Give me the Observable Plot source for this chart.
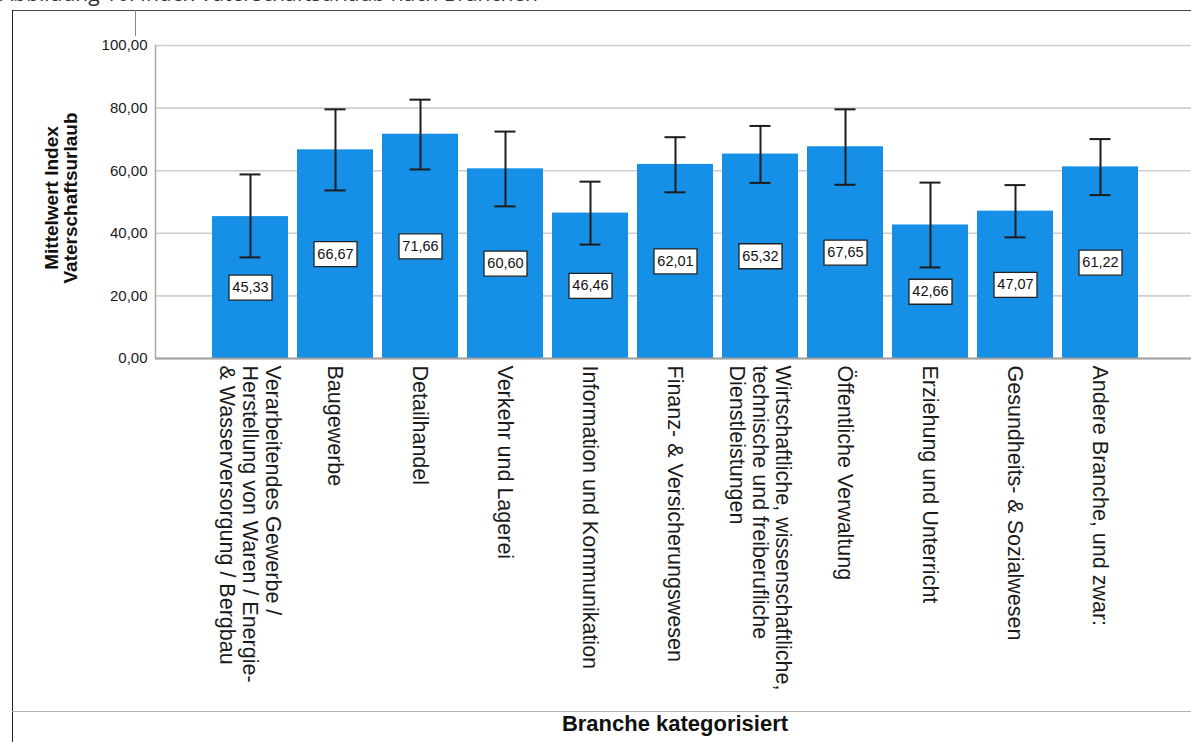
<!DOCTYPE html>
<html>
<head>
<meta charset="utf-8">
<script src="https://cdn.jsdelivr.net/npm/d3@7"></script>
<script src="https://cdn.jsdelivr.net/npm/@observablehq/plot@0.6"></script>
<style>
  html, body { margin: 0; padding: 0; background: #fff; }
  body { width: 1191px; height: 742px; position: relative; overflow: hidden; font-family: "Liberation Sans", Arial, sans-serif; }
  #title { position: absolute; left: 0; top: -17px; font-family: "Open Sans", "Liberation Sans", sans-serif; font-size: 21px; line-height: 21px; color: #333; white-space: nowrap; }
  .ln { position: absolute; }
  #chart { position: absolute; left: 0; top: 0; }
  #xtitle { position: absolute; left: 0; width: 1350px; top: 711px; text-align: center; font-weight: bold; font-size: 22px; color: #111; line-height: 26px; }
</style>
</head>
<body>
<div id="title">Abbildung 16: Index Vaterschaftsurlaub nach Branchen</div>
<div class="ln" style="left:12px;top:10px;width:1179px;height:0;border-top:1px solid #444;"></div>
<div class="ln" style="left:12px;top:10px;width:0;height:732px;border-left:1px solid #222;"></div>
<div class="ln" style="left:135px;top:10px;width:0;height:26px;border-left:1px solid #888;"></div>
<div id="chart"></div>
<div class="ln" style="left:12px;top:711px;width:1179px;height:0;border-top:1px solid #b0b0b0;"></div>
<div id="xtitle">Branche kategorisiert</div>
<script>
// ---- data ----
const categories = [
  "Verarbeitendes Gewerbe /\nHerstellung von Waren / Energie-\n& Wasserversorgung / Bergbau",
  "Baugewerbe",
  "Detailhandel",
  "Verkehr und Lagerei",
  "Information und Kommunikation",
  "Finanz- & Versicherungswesen",
  "Wirtschaftliche, wissenschaftliche,\ntechnische und freiberufliche\nDienstleistungen",
  "Öffentliche Verwaltung",
  "Erziehung und Unterricht",
  "Gesundheits- & Sozialwesen",
  "Andere Branche, und zwar:"
];
const means = [45.33, 66.67, 71.66, 60.60, 46.46, 62.01, 65.32, 67.65, 42.66, 47.07, 61.22];
const ciLower = [32.3, 53.7, 60.4, 48.6, 36.4, 53.1, 56.1, 55.5, 29.1, 38.7, 52.2];
const ciUpper = [58.8, 79.6, 82.7, 72.5, 56.5, 70.7, 74.3, 79.6, 56.2, 55.4, 70.1];
const yTicks = [0, 20, 40, 60, 80, 100];
const yLabel = "Mittelwert Index\nVaterschaftsurlaub";

const data = categories.map((c, i) => ({cat: c, mean: means[i], lo: ciLower[i], hi: ciUpper[i]}));
const fmt = v => v.toFixed(2).replace(".", ",");

const boxSymbol = {
  draw(context) {
    context.moveTo(-21.5, -12.5);
    context.lineTo(21.5, -12.5);
    context.lineTo(21.5, 12.5);
    context.lineTo(-21.5, 12.5);
    context.closePath();
  }
};

const chart = Plot.plot({
  width: 1191,
  height: 705,
  marginLeft: 155,
  marginRight: 0,
  marginTop: 45,
  marginBottom: 347,
  style: {fontFamily: "'Liberation Sans', Arial, sans-serif", color: "#1a1a1a", background: "transparent"},
  x: {domain: categories, range: [212, 1138], paddingInner: 0.106, paddingOuter: 0, label: null},
  y: {domain: [0, 100], label: null},
  marks: [
    Plot.ruleY(yTicks, {stroke: "#cfcfcf", strokeWidth: 1.6}),
    Plot.barY(data, {x: "cat", y: "mean", fill: "#1590e6"}),
    Plot.ruleX(data, {x: "cat", y1: "lo", y2: "hi", stroke: "#1c1c1c", strokeWidth: 2}),
    Plot.tickY(data, {x: "cat", y: "lo", stroke: "#1c1c1c", strokeWidth: 2, insetLeft: 27.5, insetRight: 27.5}),
    Plot.tickY(data, {x: "cat", y: "hi", stroke: "#1c1c1c", strokeWidth: 2, insetLeft: 27.5, insetRight: 27.5}),
    Plot.dot(data, {x: "cat", y: d => d.mean / 2, symbol: boxSymbol, fill: "#fff", stroke: "#222", strokeWidth: 1.3}),
    Plot.text(data, {x: "cat", y: d => d.mean / 2, text: d => fmt(d.mean), fontSize: 14.5, fill: "#111"}),
    Plot.ruleY([0], {stroke: "#a0a0a0", strokeWidth: 2}),
    Plot.frame({anchor: "left", stroke: "#a8a8a8", strokeWidth: 1.5}),
    Plot.axisY({ticks: yTicks, tickFormat: fmt, tickSize: 0, tickPadding: 8, fontSize: 15, label: null}),
    Plot.axisX({tickSize: 0, tickRotate: 90, tickPadding: 7, fontSize: 21.5, lineHeight: 1.07, label: null}),
    Plot.text([yLabel], {frameAnchor: "left", textAnchor: "middle", rotate: -90, dx: -94, dy: -4, fontSize: 19, fontWeight: "bold", lineHeight: 1.0, fill: "#111"})
  ]
});
document.getElementById("chart").appendChild(chart);
</script>
</body>
</html>
